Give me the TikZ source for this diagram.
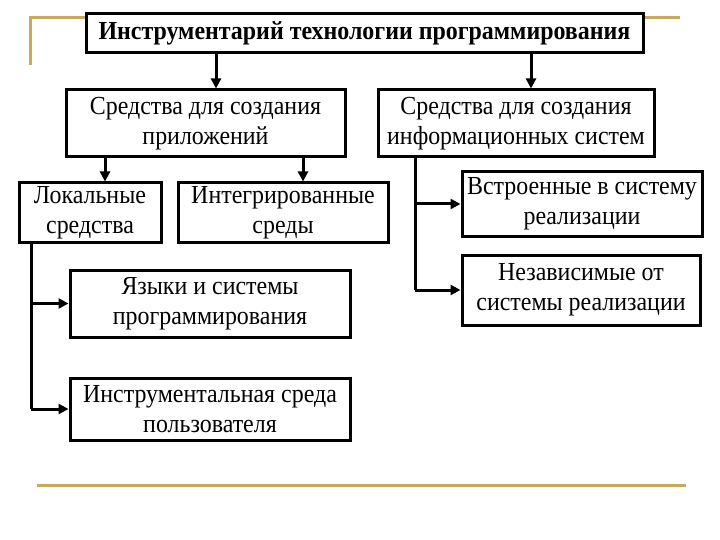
\documentclass[tikz,border=0pt]{standalone}
\usepackage{fontspec}
\setmainfont{Liberation Serif}[FakeStretch=0.92]
\usetikzlibrary{arrows.meta}
\definecolor{gold}{RGB}{200,170,95}
\tikzset{
  box/.style={draw, line width=3pt, rectangle, inner sep=0pt, align=center,
    font=\fontsize{26}{30}\selectfont},
  arr/.style={line width=3pt, -{Triangle[length=10pt,width=10pt]}},
  ln/.style={line width=3pt},
  goldline/.style={gold, line width=3pt}
}
\begin{document}
\begin{tikzpicture}[x=1pt,y=-1pt]
\useasboundingbox (0,0) rectangle (720,540);
% decorative lines
\draw[goldline] (30,65) -- (30,18) -- (680,18);
\draw[goldline] (37,485) -- (686,485);
% nodes
\node[box, fill=white, minimum width=557pt, minimum height=39pt, font=\bfseries\fontsize{26}{28}\selectfont] (title) at (364.5,33.5) {Инструментарий технологии программирования};
\node[box, minimum width=279pt, minimum height=67pt] (A) at (205.5,123.5) {Средства для создания\\приложений};
\node[box, minimum width=276pt, minimum height=67pt] (B) at (516,123.5) {Средства для создания\\информационных систем};
\node[box, minimum width=142pt, minimum height=59pt] (C) at (90,212.5) {Локальные\\средства};
\node[box, minimum width=210pt, minimum height=59pt] (D) at (283,212.5) {Интегрированные\\среды};
\node[box, minimum width=240pt, minimum height=64pt] (E) at (582,204) {Встроенные в систему\\реализации};
\node[box, minimum width=238pt, minimum height=70pt] (F) at (581,290) {Независимые от\\системы реализации};
\node[box, minimum width=280pt, minimum height=67pt] (G) at (210,303.5) {Языки и системы\\программирования};
\node[box, minimum width=280pt, minimum height=62pt] (H) at (210,409) {Инструментальная среда\\пользователя};
% connector coordinates
\coordinate (t1) at (216,0);
\coordinate (t2) at (531,0);
\coordinate (a1) at (105,0);
\coordinate (a2) at (303,0);
\coordinate (rl) at (415,0);
\coordinate (ll) at (31,0);
% connectors
\draw[arr] (t1 |- title.south) -- (t1 |- A.north);
\draw[arr] (t2 |- title.south) -- (t2 |- B.north);
\draw[arr] (a1 |- A.south) -- (a1 |- C.north);
\draw[arr] (a2 |- A.south) -- (a2 |- D.north);
\draw[ln] (rl |- B.south) -- (rl |- F.west);
\draw[arr] (rl |- E.west) -- (E.west);
\draw[arr] (rl |- F.west) -- (F.west);
\draw[ln] (ll |- C.south) -- (ll |- H.west);
\draw[arr] (ll |- G.west) -- (G.west);
\draw[arr] (ll |- H.west) -- (H.west);
\end{tikzpicture}
\end{document}
